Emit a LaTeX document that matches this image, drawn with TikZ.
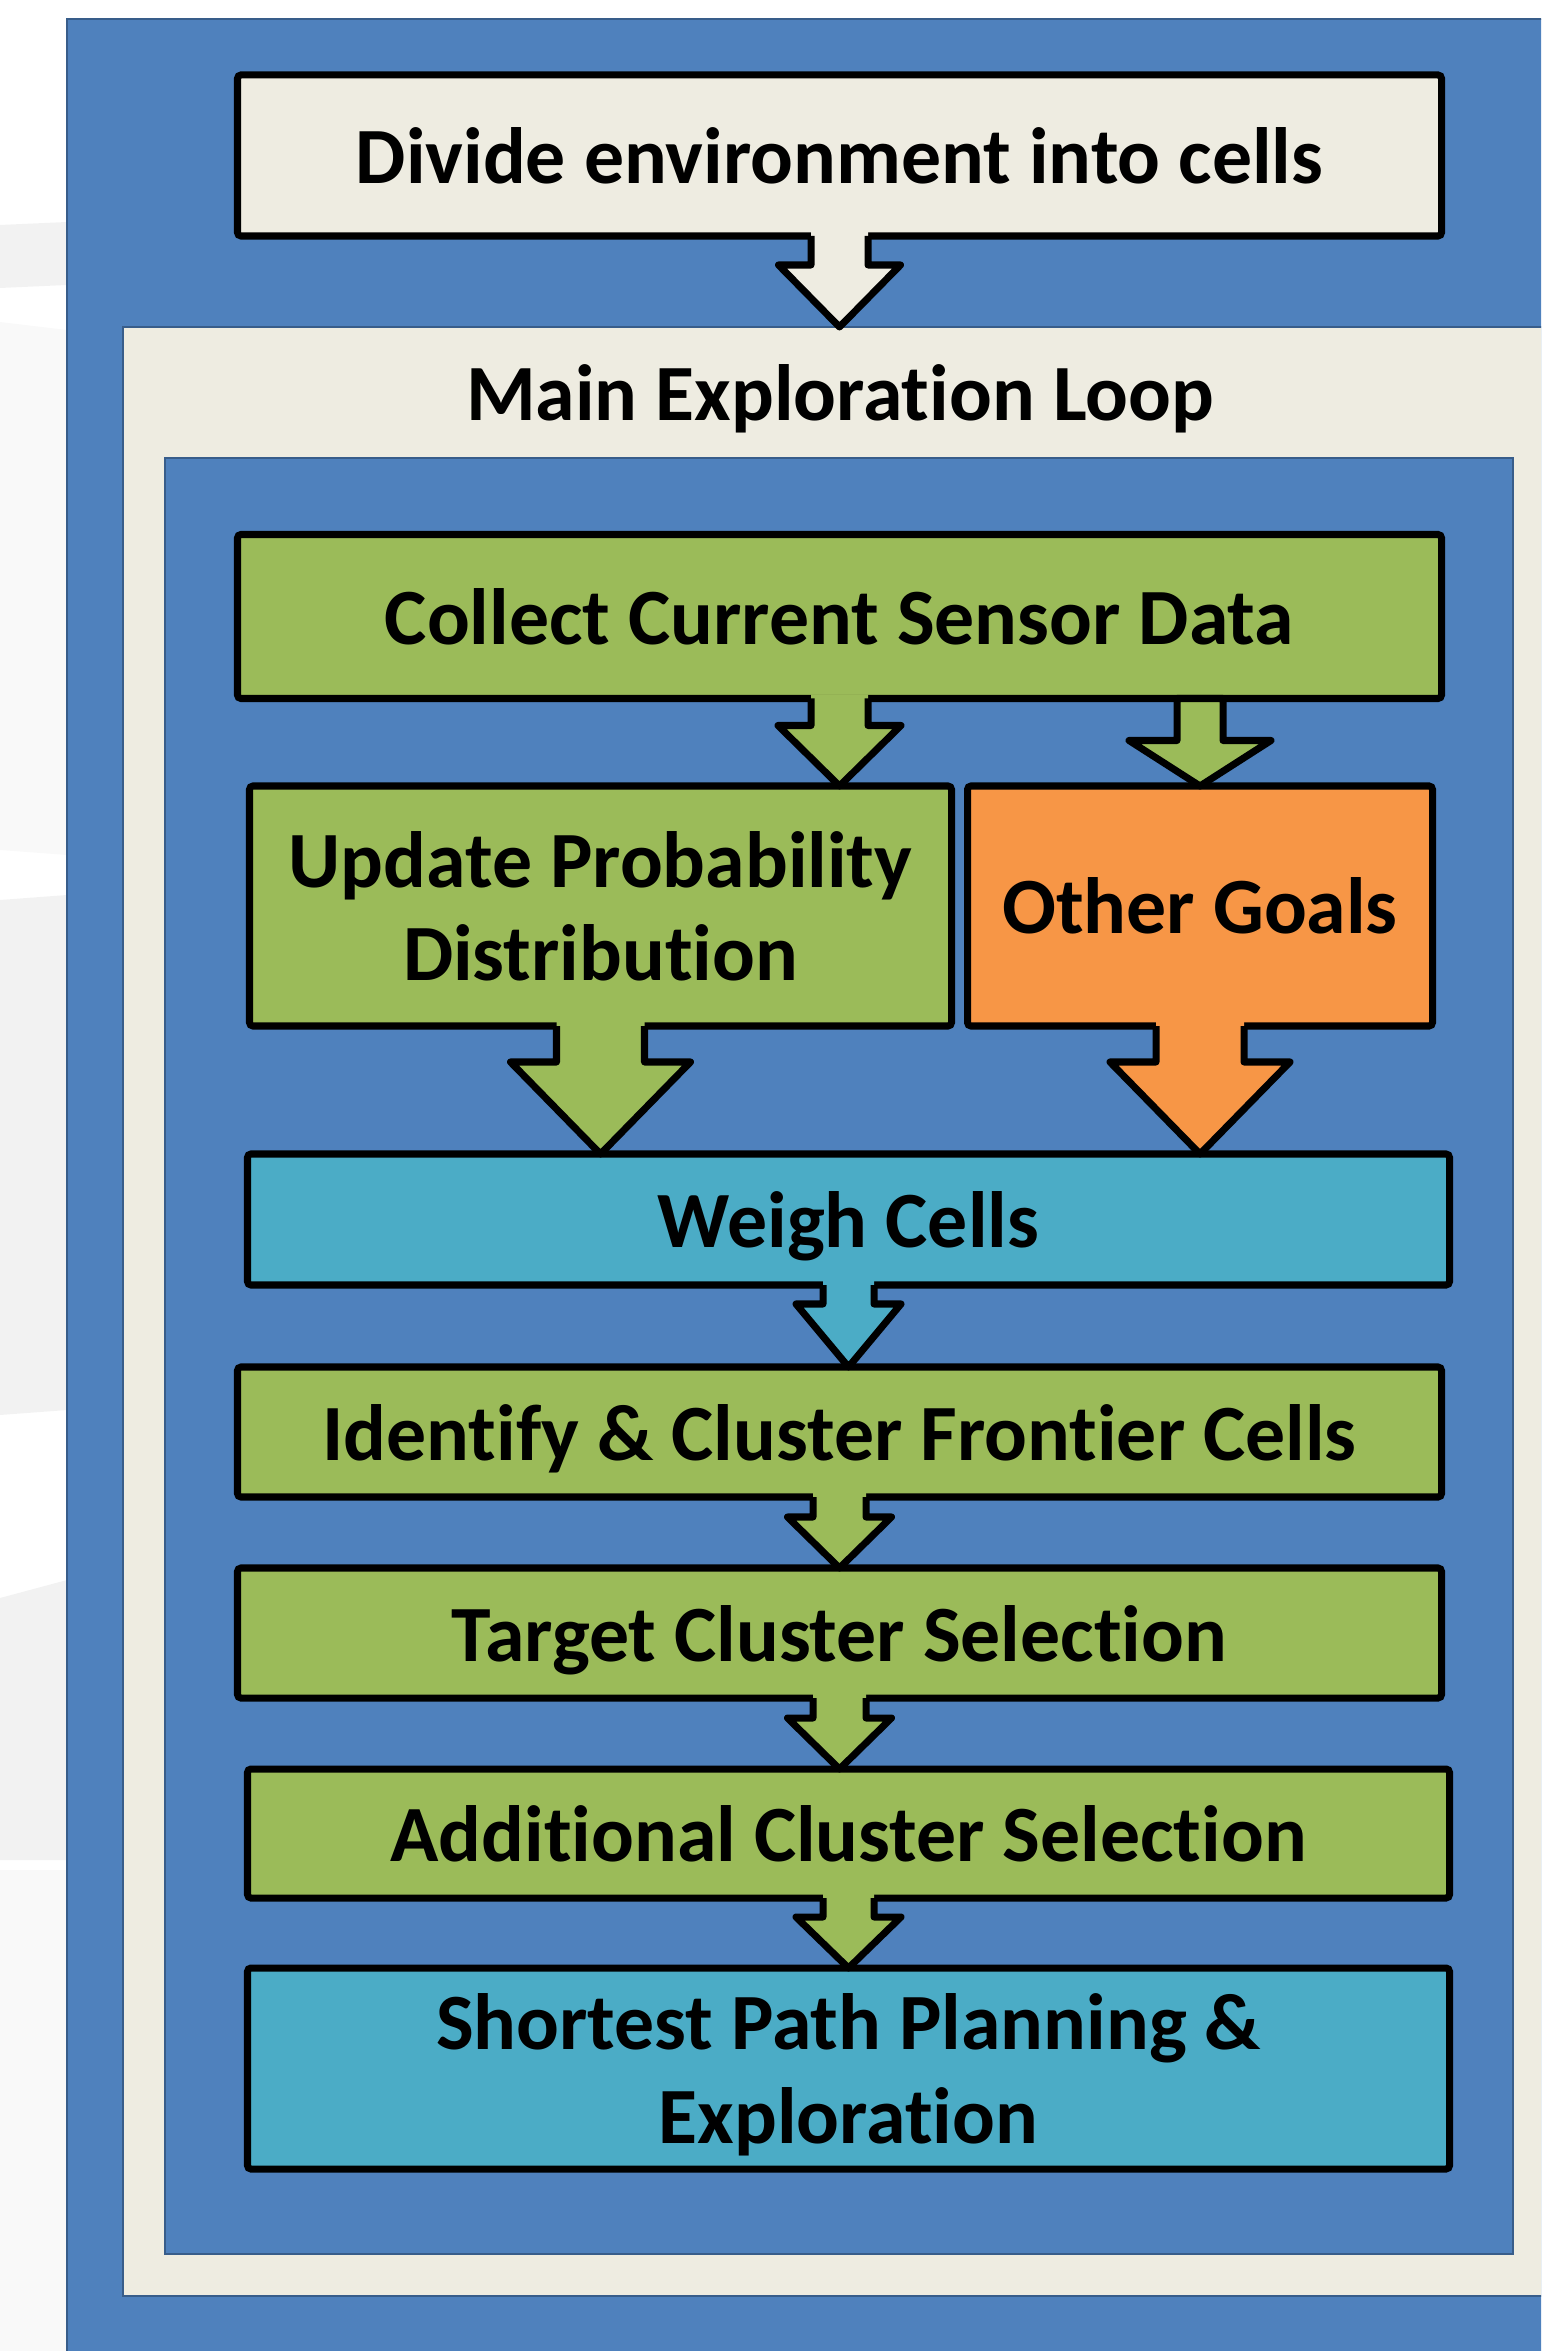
\documentclass[tikz,border=0pt]{standalone}
\usepackage{fontspec}
\setmainfont{Carlito}[Ligatures=NoCommon]
\usetikzlibrary{calc}

\definecolor{slideblue}{HTML}{4F81BD}
\definecolor{framedark}{HTML}{385D8A}
\definecolor{cream}{HTML}{EEECE1}
\definecolor{leaf}{HTML}{9BBB59}
\definecolor{tangerine}{HTML}{F79646}
\definecolor{aqua}{HTML}{4BACC6}
\definecolor{swoosh}{HTML}{F2F2F2}
\definecolor{swooshlight}{HTML}{F9F9F9}

\tikzset{
	stage/.style={draw=black, line width=2pt, rounded corners=1pt, inner sep=0pt, outer sep=0pt,
		align=center, text depth=0pt, font=\fontsize{22.7}{26.5}\selectfont\bfseries},
	arrline/.style={draw=black, line width=2pt, line join=round},
	frameline/.style={draw=framedark, line width=0.7pt}
}

% #1 откуда, #2 куда, #3 ось по x, #4 цвет, #5 полуширина ствола, #6 полуширина головки, #7 длина ствола
\newcommand{\blockarrow}[7]{
	\fill[#4] ($(#3.center |- #1.south)+(-#5,-0.04)$) -- ($(#3.center |- #1.south)+(-#5,#7)$)
		-- ($(#3.center |- #1.south)+(-#6,#7)$) -- (#3.center |- #2.north)
		-- ($(#3.center |- #1.south)+(#6,#7)$) -- ($(#3.center |- #1.south)+(#5,#7)$)
		-- ($(#3.center |- #1.south)+(#5,-0.04)$) -- cycle;
	\draw[arrline] ($(#3.center |- #1.south)+(-#5,0)$) -- ($(#3.center |- #1.south)+(-#5,#7)$)
		-- ($(#3.center |- #1.south)+(-#6,#7)$) -- (#3.center |- #2.north)
		-- ($(#3.center |- #1.south)+(#6,#7)$) -- ($(#3.center |- #1.south)+(#5,#7)$)
		-- ($(#3.center |- #1.south)+(#5,0)$);
}
% то же, но ствол закрыт сверху линией блока
\newcommand{\blockarrowclosed}[7]{
	\filldraw[arrline, fill=#4] ($(#3.center |- #1.south)+(-#5,0)$) -- ($(#3.center |- #1.south)+(-#5,#7)$)
		-- ($(#3.center |- #1.south)+(-#6,#7)$) -- (#3.center |- #2.north)
		-- ($(#3.center |- #1.south)+(#6,#7)$) -- ($(#3.center |- #1.south)+(#5,#7)$)
		-- ($(#3.center |- #1.south)+(#5,0)$) -- cycle;
}

\begin{document}
\begin{tikzpicture}[x=1cm, y=-1cm]
	\clip ( 0.00, 0.00 ) rectangle ( 15.41, 23.51 );

	% фон слайда
	\fill [swoosh] ( 0.00, 2.25 ) -- ( 0.67, 2.22 ) -- ( 0.67, 2.85 ) -- ( 0.00, 2.88 ) -- cycle;
	\fill [swooshlight] ( 0.00, 3.22 ) -- ( 0.67, 3.30 ) -- ( 0.67, 8.55 ) -- ( 0.00, 8.50 ) -- cycle;
	\fill [swoosh] ( 0.00, 9.00 ) -- ( 0.67, 8.95 ) -- ( 0.67, 14.10 ) -- ( 0.00, 14.15 ) -- cycle;
	\fill [swoosh] ( 0.00, 15.98 ) -- ( 0.67, 15.80 ) -- ( 0.67, 18.60 ) -- ( 0.00, 18.60 ) -- cycle;
	\fill [swooshlight] ( 0.00, 18.70 ) -- ( 0.67, 18.70 ) -- ( 0.67, 23.51 ) -- ( 0.00, 23.51 ) -- cycle;

	% рамки
	\filldraw [frameline, fill=slideblue] ( 0.67, 0.19 ) rectangle ( 16.00, 24.00 );
	\filldraw [frameline, fill=cream] ( 1.23, 3.27 ) rectangle ( 15.60, 22.96 );
	\filldraw [frameline, fill=slideblue] ( 1.65, 4.58 ) rectangle ( 15.13, 22.54 );

	% блоки
	\node [stage, fill=cream, minimum width=12.04cm, minimum height=1.61cm] (divide) at ( 8.395, 1.555 ) {Divide environment into cells};
	\node [inner sep=0pt, outer sep=0pt, minimum height=1.31cm, text depth=0pt, font=\fontsize{22.7}{26.5}\selectfont\bfseries] (looptitle) at ( 8.40, 3.925 ) {Main Exploration Loop};

	\node [stage, fill=leaf, minimum width=12.04cm, minimum height=1.64cm] (collect) at ( 8.395, 6.165 ) {Collect Current Sensor Data};
	\node [stage, fill=leaf, minimum width=7.02cm, minimum height=2.40cm] (update) at ( 6.005, 9.06 ) {Update Probability\\Distribution};
	\node [stage, fill=tangerine, minimum width=4.65cm, minimum height=2.40cm] (other) at ( 12.00, 9.06 ) {Other Goals};
	\node [stage, fill=aqua, minimum width=12.02cm, minimum height=1.31cm] (weigh) at ( 8.485, 12.195 ) {Weigh Cells};
	\node [stage, fill=leaf, minimum width=12.04cm, minimum height=1.30cm] (identify) at ( 8.395, 14.32 ) {Identify \& Cluster Frontier Cells};
	\node [stage, fill=leaf, minimum width=12.04cm, minimum height=1.30cm] (target) at ( 8.395, 16.33 ) {Target Cluster Selection};
	\node [stage, fill=leaf, minimum width=12.02cm, minimum height=1.29cm] (additional) at ( 8.485, 18.335 ) {Additional Cluster Selection};
	\node [stage, fill=aqua, minimum width=12.02cm, minimum height=2.01cm] (shortest) at ( 8.485, 20.685 ) {Shortest Path Planning \&\\Exploration};

	% стрелки
	\blockarrow{divide}{looptitle}{divide}{cream}{0.285}{0.61}{0.29}
	\blockarrow{collect}{update}{collect}{leaf}{0.285}{0.615}{0.27}
	\blockarrowclosed{collect}{other}{other}{leaf}{0.23}{0.71}{0.42}
	\blockarrow{update}{weigh}{update}{leaf}{0.44}{0.90}{0.36}
	\blockarrow{other}{weigh}{other}{tangerine}{0.44}{0.90}{0.36}
	\blockarrow{weigh}{identify}{weigh}{aqua}{0.255}{0.525}{0.19}
	\blockarrow{identify}{target}{identify}{leaf}{0.265}{0.52}{0.20}
	\blockarrow{target}{additional}{target}{leaf}{0.265}{0.52}{0.20}
	\blockarrow{additional}{shortest}{additional}{leaf}{0.255}{0.525}{0.19}
\end{tikzpicture}
\end{document}
